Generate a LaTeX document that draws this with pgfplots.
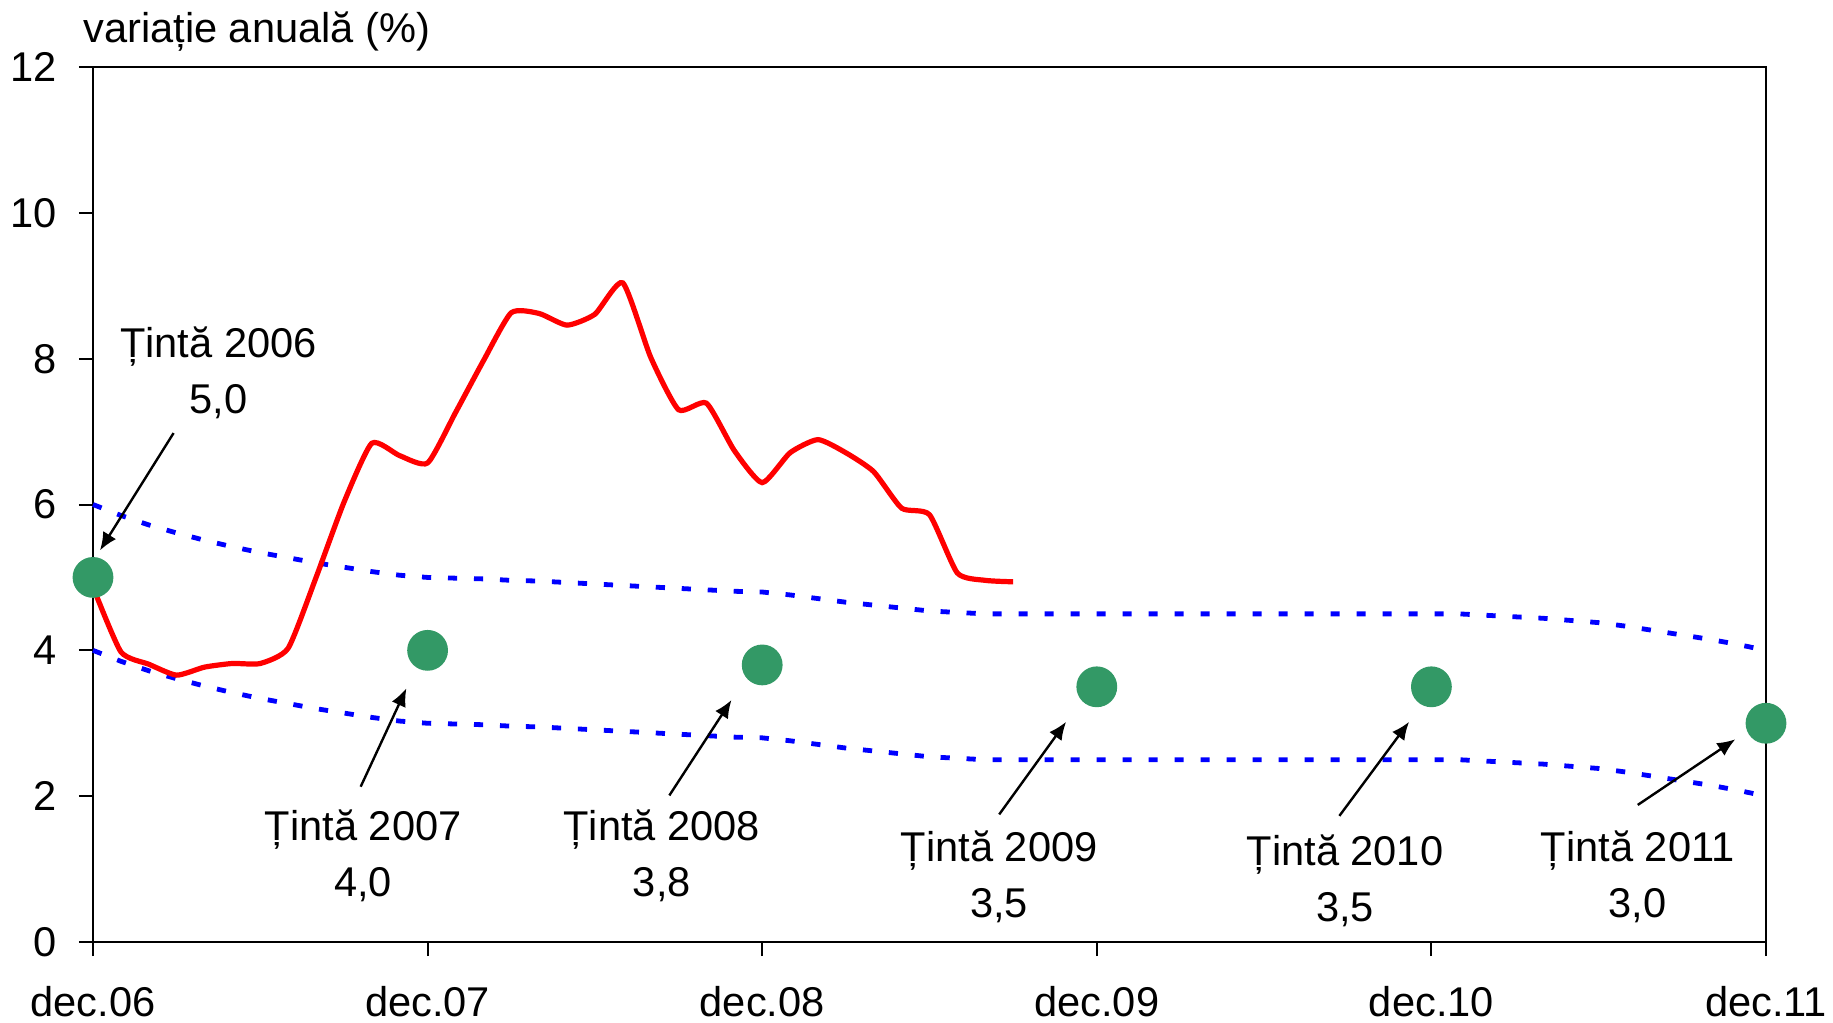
\documentclass[border=0pt]{standalone}
\usepackage{fontspec}
\setmainfont{Liberation Sans}
\usepackage{pgfplots}
\usepackage{pgfplotstable}
\pgfplotsset{compat=1.18}
\usetikzlibrary{arrows.meta}

\definecolor{tgreen}{RGB}{51,153,102}
\definecolor{bandblue}{RGB}{0,0,255}

% annual CPI, months since dec.06
\pgfplotstableread{
m v
0 4.87
1 3.98
2 3.81
3 3.66
4 3.77
5 3.82
6 3.82
7 4.03
8 5.00
9 6.03
10 6.84
11 6.67
12 6.57
13 7.26
14 7.97
15 8.63
16 8.62
17 8.46
18 8.61
19 9.04
20 8.02
21 7.30
22 7.39
23 6.74
24 6.30
25 6.71
26 6.89
27 6.71
28 6.45
29 5.95
30 5.86
31 5.06
32 4.96
33 4.94
}\cpi

% variation band (target +/- 1 pp)
\pgfplotstableread{
m up lo
0 6.00 4.00
1 5.85 3.85
2 5.72 3.72
3 5.61 3.61
4 5.51 3.51
5 5.42 3.42
6 5.34 3.34
7 5.27 3.27
8 5.20 3.20
9 5.14 3.14
10 5.08 3.08
11 5.03 3.03
12 5.00 3.00
13 4.99 2.99
14 4.98 2.98
15 4.96 2.96
16 4.95 2.95
17 4.93 2.93
18 4.91 2.91
19 4.89 2.89
20 4.87 2.87
21 4.85 2.85
22 4.83 2.83
23 4.81 2.81
24 4.80 2.80
25 4.76 2.76
26 4.71 2.71
27 4.66 2.66
28 4.62 2.62
29 4.58 2.58
30 4.54 2.54
31 4.52 2.52
32 4.50 2.50
36 4.50 2.50
40 4.50 2.50
44 4.50 2.50
48 4.50 2.50
49 4.50 2.50
50 4.48 2.48
51 4.46 2.46
52 4.44 2.44
53 4.41 2.41
54 4.38 2.38
55 4.33 2.33
56 4.27 2.27
57 4.21 2.21
58 4.15 2.15
59 4.08 2.08
60 4.00 2.00
}\band

\pgfplotstableread{
m t
0 5.0
12 4.0
24 3.8
36 3.5
48 3.5
60 3.0
}\targets

\begin{document}
\begin{tikzpicture}[font=\fontsize{10.4}{12.5}\selectfont]
\begin{axis}[
    scale only axis,
    width=418.25pt, height=218.75pt,
    xmin=0, xmax=60, ymin=0, ymax=12,
    xtick={0,12,24,36,48,60},
    xticklabels={dec.06,dec.07,dec.08,dec.09,dec.10,dec.11},
    ytick={0,2,...,12},
    tick align=outside,
    major tick length=3.5pt,
    xtick pos=bottom, ytick pos=left,
    tick style={black, line width=0.5pt},
    axis line style={black, line width=0.5pt},
    /pgf/number format/assume math mode=true,
    tick label style={font=\fontsize{10.4}{12.5}\selectfont},
    xticklabel style={yshift=-4pt},
    yticklabel style={xshift=-2pt},
    clip=false,
]
\addplot[bandblue, line width=1.2pt, dash pattern=on 2.3pt off 4.2pt] table[x=m, y=up] {\band};
\addplot[bandblue, line width=1.2pt, dash pattern=on 2.3pt off 4.2pt] table[x=m, y=lo] {\band};
\addplot[red, line width=1.3pt, smooth, tension=0.35] table[x=m, y=v] {\cpi};
\addplot[only marks, mark=*, mark size=4.9pt, color=tgreen, mark options={draw=tgreen, fill=tgreen}] table[x=m, y=t] {\targets};

\node[align=center, font=\fontsize{10.4}{14}\selectfont] at (axis cs:4.5,7.81) {Țintă 2006\\5,0};
\node[align=center, font=\fontsize{10.4}{14}\selectfont] at (axis cs:9.69,1.18) {Țintă 2007\\4,0};
\node[align=center, font=\fontsize{10.4}{14}\selectfont] at (axis cs:20.4,1.18) {Țintă 2008\\3,8};
\node[align=center, font=\fontsize{10.4}{14}\selectfont] at (axis cs:32.5,0.90) {Țintă 2009\\3,5};
\node[align=center, font=\fontsize{10.4}{14}\selectfont] at (axis cs:44.9,0.84) {Țintă 2010\\3,5};
\node[align=center, font=\fontsize{10.4}{14}\selectfont] at (axis cs:55.4,0.90) {Țintă 2011\\3,0};

\begin{scope}[line width=0.6pt, -{Latex[length=4.5pt,width=3.8pt]}]
\draw (axis cs:2.89,6.98) -- (axis cs:0.25,5.37);
\draw (axis cs:9.6,2.13) -- (axis cs:11.24,3.48);
\draw (axis cs:20.67,2.01) -- (axis cs:22.9,3.32);
\draw (axis cs:32.5,1.75) -- (axis cs:34.9,3.02);
\draw (axis cs:44.7,1.73) -- (axis cs:47.2,3.02);
\draw (axis cs:55.4,1.88) -- (axis cs:58.9,2.78);
\end{scope}

\node[anchor=base west, inner sep=0pt] at ([xshift=-2.6pt, yshift=6.2pt]rel axis cs:0,1) {variație anuală (\%)};
\end{axis}
\pgfresetboundingbox
\path[use as bounding box] (-23.25pt,-20pt) rectangle (435pt,235.5pt);
\end{tikzpicture}
\end{document}
